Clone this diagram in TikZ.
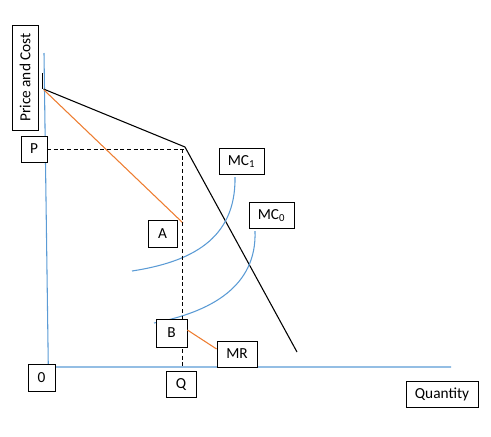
\documentclass[tikz,border=0pt]{standalone}
\usepackage{fontspec}
\setmainfont{Carlito}
\usepackage{xcolor}
\usetikzlibrary{calc}

\definecolor{axisblue}{RGB}{91,155,213}
\definecolor{mrorange}{RGB}{237,125,49}

\begin{document}
\begin{tikzpicture}[
    x=0.75pt, y=-0.75pt,
    font=\fontsize{11.5}{13}\selectfont,
    box/.style={
        draw,
        fill=white,
        line width=0.6pt,
        inner sep=0pt,
        minimum height=20pt
    },
    axis/.style={draw=axisblue, line width=0.8pt},
    mc/.style={draw=axisblue, line width=0.8pt},
    mr/.style={draw=mrorange, line width=0.8pt},
    demand/.style={draw, line width=0.8pt},
    guide/.style={draw, line width=0.6pt, dash pattern=on 3pt off 2pt}
]
\useasboundingbox (0,0) rectangle (491,436);

% key points
\coordinate (ytop) at (44,53);
\coordinate (origin) at (48.3,367);
\coordinate (xend) at (451,367);
\coordinate (pmax) at (43.5,89);
\coordinate (kink) at (185,147);
\coordinate (dend) at (297,352);

% axes
\draw[axis] (ytop) -- (origin) -- (xend);

% demand curve and marginal revenue
\draw[line width=0.8pt] (42.5,73) -- (42.5,89);
\draw[demand] (pmax) -- (kink) -- (dend);
\draw[mr] (44,90) -- (183,223);

% marginal cost curves
\draw[mc] (235,177) .. controls (236,240) and (190,262) .. (132,271);
\draw[mc] (255,231) .. controls (257,287) and (210,312) .. (154,323);

% price and quantity guides
\draw[guide] (47,149) -- (184,149);
\draw[guide] (182,149) -- (182,367);

% labels
\node[box, minimum width=78.75pt, minimum height=19.5pt, rotate=90] (pc) at (25,77.5) {Price and Cost};
\node[box, minimum width=19.5pt, minimum height=19.5pt] (P) at (34,149) {P};
\node[box, minimum width=20.25pt, minimum height=20.25pt] (zero) at (41.5,377.5) {0};
\node[box, minimum width=21.75pt] (A) at (162.5,234) {A};
\node[box, minimum width=23.25pt, minimum height=21pt] (B) at (171.5,333) {B};
\node[box, minimum width=22.5pt] (Q) at (181,384.5) {Q};
\node[box, minimum width=30pt, minimum height=19.5pt] (MR) at (237,354) {MR};
\node[box, minimum width=33.75pt] (MC1) at (241.5,161.5) {MC\textsubscript{1}};
\node[box, minimum width=33.75pt] (MC0) at (271.5,215.5) {MC\textsubscript{0}};
\node[box, minimum width=54pt] (qty) at (442,394.5) {Quantity};

\draw[mr] ($(B.east)+(0,-3)$) -- ($(MR.west)+(0,-5)$);

\end{tikzpicture}
\end{document}
